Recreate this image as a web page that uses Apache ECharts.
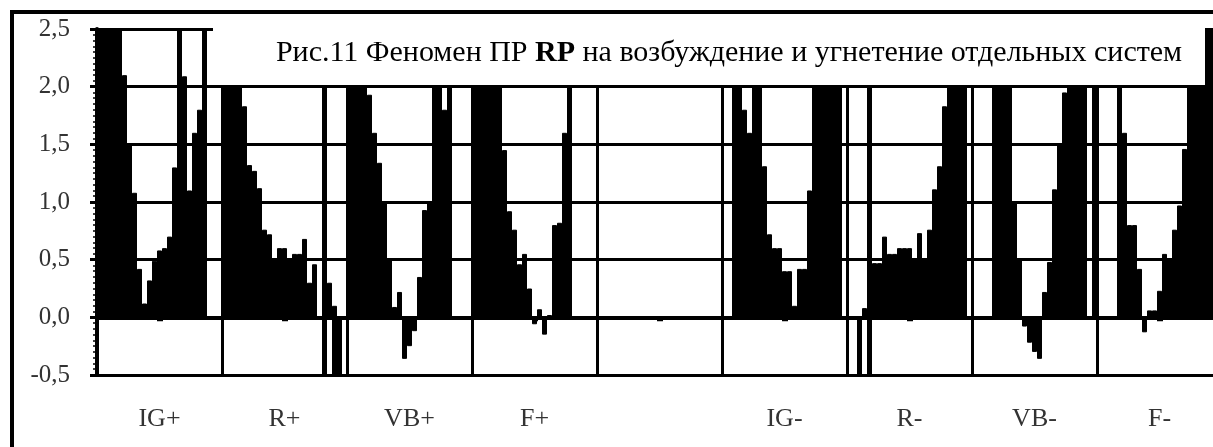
<!DOCTYPE html>
<html><head><meta charset="utf-8">
<script src="https://cdn.jsdelivr.net/npm/echarts@6/dist/echarts.min.js"></script>
<style>html,body{margin:0;padding:0;background:#fff}#c{width:1213px;height:447px}</style>
</head><body><div id="c"></div><script>
// group labels on the category axis
const groupLabels = ['IG+', 'R+', 'VB+', 'F+', '', 'IG-', 'R-', 'VB-', 'F-'];
// bar heights per group (25 bars each); values above 2.5 are off-scale (clipped)
const igPlus  = [3,3,3,3,3, 2.1,1.5,1.08,0.42,0.12, 0.32,0.49,0.58,0.6,0.7, 1.3,3,2.09,1.1,1.6, 1.8,3,0,0,0];
const rPlus   = [3,3,3,3,1.83, 1.32,1.27,1.12,0.76,0.72, 0.5,0.6,0.6,0.5,0.55, 0.55,0.68,0.3,0.46,0, 3,0.3,0.1,0,0];
const vbPlus  = [3,3,3,3,1.93, 1.6,1.34,1.0,0.5,0.09, 0.22,-0.36,-0.25,-0.12,0.35, 0.93,1.0,3,3,1.8, 3,0,0,0,0];
const fPlus   = [3,3,3,3,3, 3,1.45,0.92,0.76,0.46, 0.55,0.25,-0.06,0.07,-0.15, 0.02,0.8,0.82,1.6,3, 0,0,0,0,0];
const blank   = [0,0,0,0,0, 0,0,0,0,0, 0,0,0,0,0, 0,0,0,0,0, 0,0,0,0,0];
const igMinus = [0,0,3,3,1.8, 1.6,3,3,1.31,0.72, 0.6,0.6,0.4,0.4,0.1, 0.42,0.42,1.1,3,3, 3,3,3,3,0];
const rMinus  = [0,0,0,0.08,3, 0.47,0.47,0.7,0.55,0.55, 0.6,0.6,0.6,0.5,0.73, 0.5,0.76,1.11,1.31,1.83, 3,3,3,3,0];
const vbMinus = [0,0,0,0,3, 3,3,3,1.0,0.5, -0.08,-0.22,-0.3,-0.36,0.22, 0.48,1.11,1.5,1.95,3, 3,3,3,0,3];
const fMinus  = [0,0,0,0,3, 1.6,0.8,0.8,0.42,-0.13, 0.06,0.06,0.23,0.55,0.5, 0.76,0.97,1.46,3,3, 3,3,3,3,3];
// off-scale negative bars (below -0.5) in the R groups, null = none
const rPlusLow  = [null,null,null,null,null, null,null,null,null,null, null,null,null,null,null, null,null,null,null,null, -1,null,-1,-1,null];
const rMinusLow = [null,null,-1,null,-1, null,null,null,null,null, null,null,null,null,null, null,null,null,null,null, null,null,null,null,null];
const titleText = 'Рис.11 Феномен ПР {b|RP} на возбуждение и угнетение отдельных систем';

const groups = [igPlus, rPlus, vbPlus, fPlus, blank, igMinus, rMinus, vbMinus, fMinus];
const barsPerGroup = igPlus.length;
const mainValues = [].concat(...groups);
const emptyGroup = new Array(barsPerGroup).fill(null);
const lowValues = [].concat(emptyGroup, rPlusLow, emptyGroup, emptyGroup, emptyGroup, emptyGroup, rMinusLow, emptyGroup, emptyGroup);
const barCats = mainValues.map((_, i) => String(i));

const serif = 'Liberation Serif';
const barStyle = {color: '#000', borderColor: '#000', borderWidth: 1};
const chart = echarts.init(document.getElementById('c'), null, {renderer: 'canvas'});
chart.setOption({
  animation: false,
  backgroundColor: '#fff',
  grid: {left: 97, right: -9, top: 29, bottom: 72, containLabel: false, outerBoundsMode: 'none'},
  xAxis: [
    {type: 'category', data: barCats, position: 'bottom', boundaryGap: true,
     axisLine: {show: true, onZero: true, lineStyle: {color: '#000', width: 4}},
     axisTick: {show: true, alignWithLabel: true, length: 4,
       interval: i => i % barsPerGroup === Math.floor(barsPerGroup / 2),
       lineStyle: {color: '#000', width: 6}},
     axisLabel: {show: false},
     splitLine: {show: false}},
    {type: 'category', data: groupLabels, position: 'bottom', boundaryGap: true,
     axisLine: {show: false, onZero: false},
     axisTick: {show: false},
     axisLabel: {show: true, interval: 0, margin: 31, color: '#333', fontFamily: serif, fontSize: 26},
     splitLine: {show: true, interval: 0, lineStyle: {color: '#000', width: 3}}}
  ],
  yAxis: {
    type: 'value', min: -0.5, max: 2.5, interval: 0.5,
    axisLine: {show: true, lineStyle: {color: '#000', width: 4}},
    axisTick: {show: true, length: 7, lineStyle: {color: '#000', width: 3}},
    minorTick: {show: true, splitNumber: 10, length: 4, lineStyle: {color: '#000', width: 1.5}},
    axisLabel: {margin: 27, color: '#333', fontFamily: serif, fontSize: 25,
      formatter: v => v.toFixed(1).replace('.', ',')},
    splitLine: {show: true, lineStyle: {color: '#000', width: 3}}
  },
  series: [
    {type: 'bar', data: mainValues, xAxisIndex: 0, barCategoryGap: '0%', barGap: '-100%',
     itemStyle: barStyle, clip: true, silent: true},
    {type: 'bar', data: lowValues, xAxisIndex: 0, barCategoryGap: '0%', barGap: '-100%',
     itemStyle: barStyle, clip: true, silent: true}
  ],
  graphic: [
    {type: 'rect', z: 100, shape: {x: 12, y: 12, width: 1240, height: 480},
     style: {fill: 'none', stroke: '#000', lineWidth: 4}},
    {type: 'rect', z: 100, shape: {x: 213, y: 14, width: 992, height: 71}, style: {fill: '#fff'}},
    {type: 'text', z: 101, x: 729, y: 53,
     style: {text: titleText, fontFamily: serif, fontSize: 30, fill: '#000', align: 'center', verticalAlign: 'middle',
       rich: {b: {fontFamily: serif, fontSize: 30, fontWeight: 'bold', fill: '#000'}}}}
  ]
});
</script></body></html>
